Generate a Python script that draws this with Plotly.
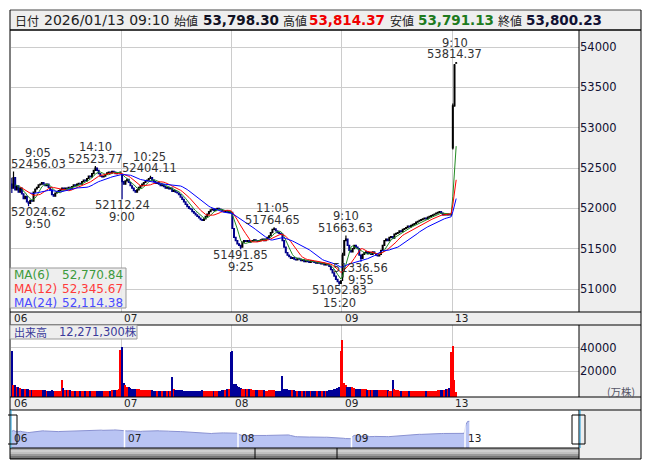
import plotly.graph_objects as go
import pandas as pd

W, H = 653, 470
OFF = 8  # page body margin


def px(x):
    return (x - OFF) / W


def py(y):
    return 1 - (y - OFF) / H


DAY_LABELS = ["06", "07", "08", "09", "13"]
BARS_PER_DAY = 66

# 5-minute closes per session
CLOSE_06 = [52250, 52380, 52230, 52280, 52200, 52250, 52180, 52120, 52150, 52080,
            52060, 52100, 52090, 52200, 52240, 52260, 52290, 52300, 52320, 52300,
            52280, 52300, 52260, 52230, 52170, 52150, 52190, 52200, 52220, 52230,
            52250, 52240, 52250, 52240, 52260, 52250, 52270, 52290, 52280, 52300,
            52310, 52300, 52330, 52350, 52340, 52370, 52400, 52390, 52430, 52470,
            52500, 52470, 52430, 52400, 52390, 52400, 52420, 52440, 52450, 52440,
            52460, 52450, 52430, 52440, 52440, 52450]
CLOSE_07 = [52330, 52300, 52340, 52360, 52320, 52280, 52250, 52220, 52200, 52230,
            52260, 52280, 52300, 52320, 52340, 52350, 52370, 52380, 52350, 52330,
            52310, 52320, 52300, 52280, 52290, 52270, 52250, 52260, 52240, 52250,
            52210, 52220, 52200, 52190, 52170, 52140, 52110, 52080, 52050, 52020,
            52000, 51990, 51960, 51940, 51920, 51900, 51880, 51860, 51850, 51870,
            51900, 51930, 51960, 51980, 51990, 51970, 51990, 52000, 51990, 51980,
            51970, 51960, 51970, 51950, 51960, 51950]
CLOSE_08 = [51750, 51640, 51600, 51560, 51540, 51520, 51580, 51600, 51590, 51600,
            51580, 51590, 51600, 51610, 51600, 51590, 51600, 51610, 51620, 51600,
            51620, 51640, 51660, 51700, 51740, 51745, 51720, 51700, 51690, 51680,
            51600, 51520, 51450, 51420, 51400, 51380, 51390, 51370, 51360, 51380,
            51370, 51350, 51360, 51340, 51350, 51340, 51330, 51350, 51340, 51330,
            51320, 51330, 51320, 51310, 51320, 51300, 51310, 51300, 51280, 51240,
            51200, 51160, 51120, 51090, 51070, 51100]
CLOSE_09 = [51420, 51600, 51620, 51540, 51480, 51460, 51500, 51540, 51520, 51500,
            51420, 51380, 51430, 51450, 51460, 51440, 51450, 51430, 51460, 51440,
            51420, 51410, 51430, 51480, 51540, 51600, 51620, 51600, 51640, 51650,
            51630, 51680, 51690, 51700, 51720, 51710, 51740, 51750, 51760, 51780,
            51770, 51790, 51800, 51810, 51830, 51840, 51850, 51860, 51870, 51880,
            51870, 51890, 51900, 51910, 51920, 51930, 51940, 51950, 51960, 51940,
            51920, 51930, 51920, 51930, 51920, 51925]
CLOSE_13 = [53270, 53780, 53800.23]

DAY_FIRST_OPEN = [52300, 52420, 51950, 51150, 52750]
OPEN_13 = [52750, 53270, 53798.30]
HIGH_13 = [53300, 53790, 53814.37]
LOW_13 = [52730, 53260, 53791.13]
EXTRA_HL = {(0, 0): (52380, 52190), (3, 0): (51450, 51100)}

# labelled swing highs / lows: (day, bar, kind, price, time)
MARKS = [
    (0, 1, "H", 52456.03, "9:05"),
    (0, 10, "L", 52024.62, "9:50"),
    (0, 50, "H", 52523.77, "14:10"),
    (1, 0, "L", 52112.24, "9:00"),
    (1, 17, "H", 52404.11, "10:25"),
    (2, 5, "L", 51491.85, "9:25"),
    (2, 25, "H", 51764.65, "11:05"),
    (2, 64, "L", 51052.83, "15:20"),
    (3, 2, "H", 51663.63, "9:10"),
    (3, 11, "L", 51336.56, "9:55"),
    (4, 2, "H", 53814.37, "9:10"),
]
MARK_XSHIFT = {(0, 1): 24.5, (0, 10): 9.5, (1, 17): -1, (2, 25): -2, (4, 2): -1.5}

# volume (万株)
VOL_06 = [37000, 8000, 8000, 6500, 6000, 5500, 5000, 5000, 4500, 4500,
          4500, 4000, 4000, 4000, 4000, 3800, 3800, 3500, 3500, 3500,
          3500, 3200, 3200, 3200, 3500, 3200, 3000, 3000, 3000, 3000,
          12000, 5500, 4000, 3500, 3500, 3500, 3200, 3200, 3000, 3000,
          3000, 3000, 3000, 2800, 2800, 3000, 3000, 2800, 2800, 3000,
          3200, 3000, 2800, 2800, 3000, 3000, 2800, 3000, 3200, 3200,
          3500, 3500, 3800, 4000, 4500, 38000]
VOL_07 = [41000, 9500, 8000, 6500, 6000, 5500, 5000, 5000, 4500, 4500,
          4200, 4000, 4000, 4000, 3800, 3800, 3500, 3500, 3500, 3200,
          3200, 3200, 3000, 3000, 3000, 3000, 3000, 3000, 3000, 3200,
          15000, 4500, 4000, 3800, 3500, 3500, 3500, 3200, 3200, 3000,
          3000, 3000, 3200, 3000, 3000, 3000, 3200, 3200, 3500, 3200,
          3000, 3000, 3000, 3000, 3000, 3000, 3000, 3200, 3200, 3200,
          3500, 3500, 3800, 4200, 5000, 36000]
VOL_08 = [37500, 9000, 8500, 7000, 6500, 5500, 5000, 5000, 4800, 4500,
          4500, 4200, 4000, 4000, 4000, 3800, 3500, 3500, 3500, 3500,
          3200, 3200, 3500, 3800, 3800, 3500, 3200, 3000, 3000, 3000,
          15500, 5000, 4500, 4200, 4000, 3800, 3500, 3500, 3200, 3200,
          3000, 3000, 3000, 3000, 3000, 3000, 2800, 2800, 3000, 3000,
          3000, 2800, 2800, 3000, 3000, 3000, 3200, 3200, 3500, 3800,
          4000, 4500, 5000, 5500, 6000, 37000]
VOL_09 = [46500, 10000, 8000, 6500, 6000, 6500, 6000, 5500, 5000, 5000,
          4800, 4500, 4500, 4500, 4200, 4000, 4000, 3800, 3800, 3500,
          3500, 3500, 3500, 3500, 3800, 3800, 3500, 3500, 3200, 3200,
          12000, 4500, 4000, 3500, 3200, 3200, 3000, 3000, 3000, 3000,
          3000, 3000, 3000, 2800, 2800, 2800, 3000, 3000, 3000, 2800,
          2800, 3000, 3000, 3200, 3200, 3000, 3000, 3500, 3500, 3800,
          3800, 4000, 4500, 5000, 5500, 36000]
VOL_13 = [41500, 12000, 2000]

PRICE_TICKS = [51000, 51500, 52000, 52500, 53000, 53500, 54000]
VOL_TICKS = [20000, 40000]
MA_WINDOWS = [6, 12, 24]
MA_COLORS = ["#228b22", "#ff0000", "#0000ff"]
MA_TEXT_COLORS = ["#3c9a3c", "#ff3b3b", "#4a4aff"]
MA_VALUES = ["52,770.84", "52,345.67", "52,114.38"]

HEADER = [("日付", "lab", None), ("2026/01/13 09:10", "date", None),
          ("始値", "lab", None), ("53,798.30", "val", "#111122"),
          ("高値", "lab", None), ("53,814.37", "val", "#f00000"),
          ("安値", "lab", None), ("53,791.13", "val", "#1e7b1e"),
          ("終値", "lab", None), ("53,800.23", "val", "#111133")]
HEADER_X = [13, 42, 172, 201, 281, 307, 388, 416, 496, 524]

# ---------- build OHLC ----------
closes_by_day = [CLOSE_06, CLOSE_07, CLOSE_08, CLOSE_09, CLOSE_13]
vols_by_day = [VOL_06, VOL_07, VOL_08, VOL_09, VOL_13]
mark_map = {(d, b): (k, v) for d, b, k, v, t in MARKS}
xs, o, h, l, c, vol = [], [], [], [], [], []
prev = None
for d, cl in enumerate(closes_by_day):
    for b, cv in enumerate(cl):
        if d == 4:
            ov, hv, lv = OPEN_13[b], HIGH_13[b], LOW_13[b]
        else:
            ov = DAY_FIRST_OPEN[d] if b == 0 else prev
            hv, lv = max(ov, cv), min(ov, cv)
            if (d, b) in EXTRA_HL:
                hv, lv = EXTRA_HL[(d, b)]
            if (d, b) in mark_map:
                k, v = mark_map[(d, b)]
                if k == "H":
                    hv = v
                else:
                    lv = v
        xs.append(d * BARS_PER_DAY + b)
        o.append(ov); h.append(hv); l.append(lv); c.append(cv)
        vol.append(vols_by_day[d][b])
        prev = cv

closes = pd.Series(c)
day_bounds = [d * BARS_PER_DAY - 0.5 for d in range(len(DAY_LABELS))]

PX_PER_BAR = 441.0 / 264
X_RANGE = [-0.5, -0.5 + 568 / PX_PER_BAR]
NAV_PX = 454.0 / 264
NAV_RANGE = [-0.5 - 1 / NAV_PX, -0.5 + 568 / NAV_PX]

fig = go.Figure()
fig.add_trace(go.Candlestick(
    x=xs, open=o, high=h, low=l, close=c, xaxis="x", yaxis="y",
    increasing=dict(line=dict(color="#000000", width=1.2), fillcolor="#000000"),
    decreasing=dict(line=dict(color="#00008b", width=1.2), fillcolor="#00008b"),
    whiskerwidth=0, showlegend=False, hoverinfo="skip"))
for w, col in zip(MA_WINDOWS, MA_COLORS):
    ma = closes.rolling(w, min_periods=w // 2).mean()
    fig.add_trace(go.Scatter(x=xs, y=ma, mode="lines", line=dict(color=col, width=1),
                             xaxis="x", yaxis="y", showlegend=False, hoverinfo="skip"))

VMIN = -2300
vcolors = ["#ff0000" if cc >= oo else "#000099" for oo, cc in zip(o, c)]
fig.add_trace(go.Bar(x=xs, y=[v - VMIN for v in vol], base=VMIN,
                     marker=dict(color=vcolors, line=dict(width=0)),
                     width=0.8, xaxis="x2", yaxis="y2", showlegend=False, hoverinfo="skip"))

fig.add_trace(go.Scatter(x=xs, y=c, mode="lines", fill="tozeroy", fillcolor="#b9c4f3",
                         line=dict(color="#8a92d2", width=1), xaxis="x3", yaxis="y3",
                         showlegend=False, hoverinfo="skip"))

NUMFONT = "DejaVu Sans"
CJK = "Noto Sans CJK JP"
GRID = "#cccccc"

fig.update_layout(
    width=W, height=H, margin=dict(l=0, r=0, t=0, b=0),
    paper_bgcolor="white", plot_bgcolor="white",
    bargap=0,
    xaxis=dict(domain=[px(11), px(579)], range=X_RANGE, anchor="y", tickvals=day_bounds,
               showticklabels=False, showgrid=True, gridcolor=GRID, zeroline=False,
               rangeslider=dict(visible=False), ticks=""),
    yaxis=dict(domain=[py(312), py(30)], range=[50715, 54210.7], side="right", anchor="x",
               tickvals=PRICE_TICKS, ticktext=[str(t) for t in PRICE_TICKS],
               showgrid=True, gridcolor=GRID, zeroline=False, ticks="",
               tickfont=dict(family=NUMFONT, size=11.5, color="#111133")),
    xaxis2=dict(domain=[px(11), px(579)], matches="x", anchor="y2", tickvals=day_bounds,
                showticklabels=False, showgrid=True, gridcolor=GRID, zeroline=False, ticks=""),
    yaxis2=dict(domain=[py(397), py(325)], range=[VMIN, 59500], side="right", anchor="x2",
                tickvals=VOL_TICKS, ticktext=[str(t) for t in VOL_TICKS],
                showgrid=True, gridcolor=GRID, zeroline=False, ticks="",
                tickfont=dict(family=NUMFONT, size=11.5, color="#111133")),
    xaxis3=dict(domain=[px(10), px(579)], range=NAV_RANGE, anchor="y3", showgrid=False,
                showticklabels=False, zeroline=False, ticks=""),
    yaxis3=dict(domain=[py(448), py(410)], range=[49650, 55560], anchor="x3", showgrid=False,
                showticklabels=False, zeroline=False, ticks=""),
)

shapes = []


def rect(x0, y0, x1, y1, fill=None, line=None, lw=1, layer="below"):
    shapes.append(dict(type="rect", xref="paper", yref="paper", x0=px(x0), x1=px(x1),
                       y0=py(y1), y1=py(y0), fillcolor=fill or "rgba(0,0,0,0)",
                       line=dict(color=line or "rgba(0,0,0,0)", width=lw if line else 0),
                       layer=layer))


def hline(x0, x1, y, color="#000", lw=1):
    shapes.append(dict(type="line", xref="paper", yref="paper", x0=px(x0), x1=px(x1),
                       y0=py(y), y1=py(y), line=dict(color=color, width=lw), layer="above"))


def vline(x, y0, y1, color="#000", lw=1):
    shapes.append(dict(type="line", xref="paper", yref="paper", x0=px(x), x1=px(x),
                       y0=py(y0), y1=py(y1), line=dict(color=color, width=lw), layer="above"))


GRAY = "#eeeeee"
rect(10, 10, 641, 30, fill=GRAY)
rect(579, 30, 641, 459, fill=GRAY)
rect(10, 312, 641, 325, fill=GRAY)
rect(10, 397, 641, 410, fill=GRAY)
# scrollbar gradient
for (y0, y1, col) in [(448, 450, "#a8a8a8"), (450, 452, "#cfcfcf"), (452, 454, "#c0c0c0"),
                      (454, 456, "#9a9a9a"), (456, 458, "#777777"), (458, 459, "#555555")]:
    rect(10, y0, 579, y1, fill=col)
# navigator day separators
for b in day_bounds[1:]:
    shapes.append(dict(type="line", xref="x3", yref="paper", x0=b, x1=b, y0=py(448), y1=py(410),
                       line=dict(color="white", width=1.5), layer="above"))
# borders
hline(10, 641, 10, "#444")
hline(10, 641, 30, "#000", 1.5)
hline(10, 641, 312)
hline(10, 641, 325)
hline(10, 641, 397)
hline(10, 641, 410)
hline(10, 579, 448)
hline(10, 641, 459)
vline(10, 10, 459)
vline(641, 10, 459)
vline(579, 30, 312)
vline(579, 325, 397)
vline(579, 410, 459)
vline(255, 448, 459)
vline(337, 448, 459)
# navigator handles
vline(11, 410, 448, "#1a9bd7")
vline(580, 410, 448, "#1a9bd7")
shapes.append(dict(type="rect", xref="paper", yref="paper", x0=px(4), x1=px(17), y0=py(444), y1=py(415),
                   fillcolor="rgba(255,255,255,0)", line=dict(color="#000", width=1), layer="above"))
shapes.append(dict(type="rect", xref="paper", yref="paper", x0=px(572), x1=px(585), y0=py(444), y1=py(415),
                   fillcolor="rgba(255,255,255,0)", line=dict(color="#000", width=1), layer="above"))
# legend boxes
shapes.append(dict(type="rect", xref="paper", yref="paper", x0=px(10), x1=px(126), y0=py(308), y1=py(268),
                   fillcolor="rgba(236,236,236,0.9)", line=dict(color="#999", width=1), layer="above"))
shapes.append(dict(type="rect", xref="paper", yref="paper", x0=px(10), x1=px(137), y0=py(339), y1=py(325),
                   fillcolor="rgba(238,238,238,1)", line=dict(color="#999", width=1), layer="above"))

ann = []


def text(x, y, s, size=11.5, color="#333", family=NUMFONT, xanchor="left", **kw):
    d = dict(x=px(x), y=py(y), xref="paper", yref="paper", text=s, showarrow=False,
             xanchor=xanchor, yanchor="middle", font=dict(family=family, size=size, color=color))
    d.update(kw)
    ann.append(d)


# header
for (s, kind, col), x in zip(HEADER, HEADER_X):
    if kind == "lab":
        text(x, 20, s, size=12, color="#222", family=CJK)
    elif kind == "date":
        text(x, 20, s, size=14, color="#222")
    else:
        text(x, 20, "<b>" + s + "</b>", size=13.5, color=col)

# swing labels
for d, b, k, v, t in MARKS:
    xi = d * BARS_PER_DAY + b
    xsft = MARK_XSHIFT.get((d, b), 0)
    if k == "H":
        pairs = [(t, 19), (f"{v:.2f}", 7.5)]
    else:
        pairs = [(f"{v:.2f}", -5.7), (t, -18)]
    for s, ys in pairs:
        ann.append(dict(x=xi, y=v, xref="x", yref="y", text=s, showarrow=False, xanchor="center",
                        yanchor="middle", xshift=xsft, yshift=ys,
                        font=dict(family=NUMFONT, size=11.5, color="#333")))

# date strips and navigator labels
for b, lab in zip(day_bounds, DAY_LABELS):
    for yy in (318, 403):
        ann.append(dict(x=b, y=py(yy), xref="x", yref="paper", text=lab, showarrow=False,
                        xanchor="left", yanchor="middle", xshift=1,
                        font=dict(family=NUMFONT, size=10.5, color="#222")))
    ann.append(dict(x=b, y=py(438), xref="x3", yref="paper", text=lab, showarrow=False,
                    xanchor="left", yanchor="middle", xshift=1,
                    font=dict(family=NUMFONT, size=10.5, color="#222")))

# MA legend
for i, (w, tc, val) in enumerate(zip(MA_WINDOWS, MA_TEXT_COLORS, MA_VALUES)):
    yy = 275 + 14 * i
    text(12, yy, f"MA({w})", size=12, color=tc)
    text(125, yy, val, size=12, color=tc, xanchor="right")

# volume legend
text(12, 332, "出来高", size=11, color="#3a3a9a", family=CJK)
text(57, 332, "12,271,300株", size=11.5, color="#3a3a9a", family=NUMFONT + ", " + CJK)
text(637, 391, "(万株)", size=10.5, color="#555566", family=CJK, xanchor="right")

fig.update_layout(shapes=shapes, annotations=ann)
fig.write_html("out.html")
